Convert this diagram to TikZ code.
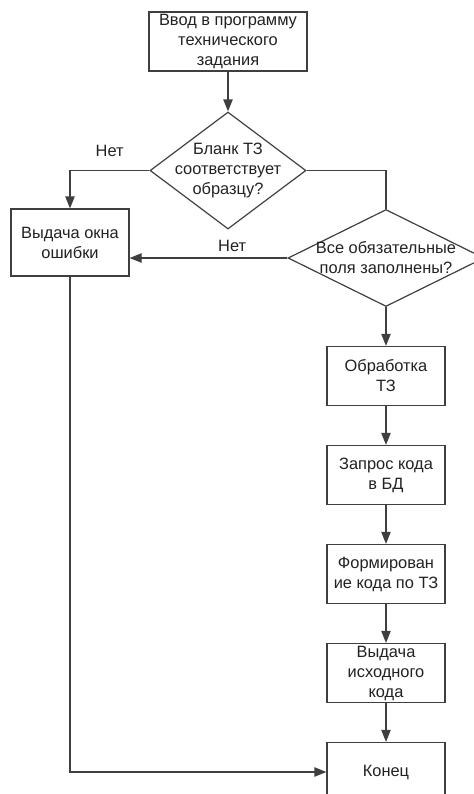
\documentclass[tikz,border=0pt]{standalone}
\usepackage{fontspec}
\setmainfont{Liberation Sans}
\usepackage{tikz}
\usetikzlibrary{arrows.meta, positioning, shapes.geometric}
\definecolor{linegray}{HTML}{3F3F3F}
\definecolor{txt}{HTML}{222222}

\begin{document}
\begin{tikzpicture}[
  x=0.75pt, y=-0.75pt,
  node distance=29.1pt,
  blk/.style={rectangle, draw=linegray, line width=0.9pt, fill=white,
              minimum width=88.5pt, minimum height=44.25pt, inner sep=1pt,
              align=center, font=\fontsize{12.3}{15}\selectfont\color{txt}},
  dec/.style={diamond, draw=linegray, line width=0.9pt, inner sep=0pt},
  lbl/.style={align=center, inner sep=1pt, font=\fontsize{12.3}{15}\selectfont\color{txt}},
  conn/.style={draw=linegray, line width=0.9pt},
  arr/.style={conn, -{Triangle[length=9pt, width=7pt]}}
]
  \useasboundingbox (0,0) rectangle (474,794);

  % main branch
  \node[blk, minimum width=118.5pt] (start) at (228,41.5) {Ввод в программу\\технического\\задания};
  \node[dec, minimum width=117pt, minimum height=87.75pt, below=29.85pt of start] (chk1) {};
  \node[lbl] (chk1t) at (chk1) {Бланк ТЗ\\соответствует\\образцу?};

  \node[blk, minimum height=50.25pt] (err) at (70,242.5) {Выдача окна\\ошибки};

  \node[dec, minimum width=147pt, minimum height=72.75pt] (chk2) at (386,258) {};
  \node[lbl] (chk2t) at (chk2) {Все обязательные\\поля заполнены?};

  % right column
  \node[blk, below=of chk2] (proc) {Обработка\\ТЗ};
  \node[blk, below=of proc] (query) {Запрос кода\\в БД};
  \node[blk, below=of query] (gen) {Формирован\\ие кода по ТЗ};
  \node[blk, below=of gen] (out) {Выдача\\исходного\\кода};
  \node[blk, below=of out] (fin) {Конец};

  % connectors
  \draw[arr] (start) -- (chk1);
  \draw[arr] (chk1.west) -| node[lbl, above=9pt, pos=0.25] (no1) {Нет} (err.north);
  \draw[conn] (chk1.east) -| (chk2.north);
  \draw[arr] (chk2.west) -- node[lbl, above=3pt, pos=0.35] (no2) {Нет} (chk2.west -| err.east);
  \draw[arr] (chk2) -- (proc);
  \draw[arr] (proc) -- (query);
  \draw[arr] (query) -- (gen);
  \draw[arr] (gen) -- (out);
  \draw[arr] (out) -- (fin);
  \draw[arr] (err.south) |- (fin.west);
\end{tikzpicture}
\end{document}
